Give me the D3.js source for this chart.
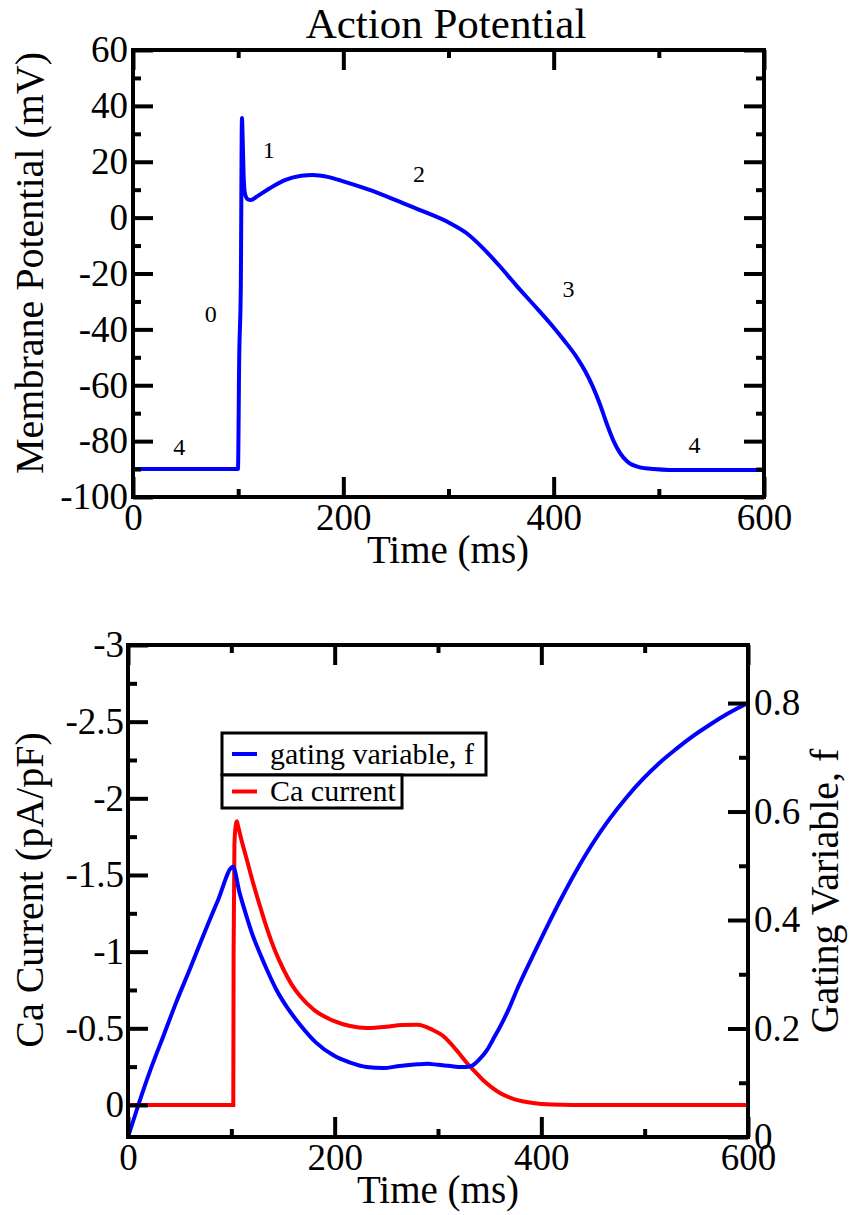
<!DOCTYPE html>
<html>
<head>
<meta charset="utf-8">
<script src="https://d3js.org/d3.v7.min.js"></script>
<style>
body { margin: 0; background: #fff; }
</style>
</head>
<body>
<svg width="852" height="1215" font-family="'Liberation Serif', 'DejaVu Serif', 'Times New Roman', Times, serif"></svg>
<script>
var SERIF = "'Liberation Serif', 'DejaVu Serif', 'Times New Roman', Times, serif";

// ---- action potential (top panel) ----
var apTime = [0, 99.8, 101, 102.5, 103.6, 104.3, 105.2, 106.5, 109, 112, 118, 130, 145, 160, 171, 185, 200, 225, 254, 273, 301, 317, 333, 349, 365, 381, 397, 410, 422, 430, 437, 444, 451, 457, 463, 470, 482, 495, 510, 600];
var apVoltage = [-90, -90, -50, -25, 35.7, 28, 15, 8.5, 6.6, 6.3, 7.6, 10.5, 13.5, 15, 15.3, 14.6, 13, 9.9, 5.6, 2.7, -1.9, -5.5, -11, -17.5, -24.5, -31.2, -38, -44, -50, -55, -60.3, -66.8, -74.3, -80, -84.2, -87.3, -89.4, -90, -90.3, -90.3];

var phaseText = ["0", "1", "2", "3", "4", "4"];
var phaseTime = [74, 129, 272, 414, 44, 534];
var phaseVoltage = [-37.4, 21.3, 12.8, -28.4, -85, -84.2];

var apXMajor = [0, 200, 400, 600];
var apXMinor = [100, 300, 500];
var apYMajor = [-100, -80, -60, -40, -20, 0, 20, 40, 60];
var apYMinor = [-90, -70, -50, -30, -10, 10, 30, 50];

// ---- Ca current and gating variable (bottom panel) ----
var gateTime = [0, 10, 21, 35, 47, 60, 73, 87, 101.6, 108, 115, 121, 128, 135, 144, 155, 166.5, 182, 198.4, 215, 231, 247, 263, 280, 290, 300, 312, 322, 331, 340, 347.4, 353, 360, 369, 376.5, 385, 395, 403.5, 418, 433.6, 450, 465.5, 482, 498.4, 514, 530.3, 546, 562.3, 581, 600];
var gateF = [0, 0.059, 0.12, 0.19, 0.25, 0.31, 0.372, 0.436, 0.498, 0.45, 0.405, 0.37, 0.337, 0.306, 0.27, 0.236, 0.207, 0.174, 0.151, 0.137, 0.129, 0.127, 0.131, 0.134, 0.135, 0.133, 0.131, 0.129, 0.13, 0.143, 0.16, 0.179, 0.203, 0.238, 0.272, 0.307, 0.347, 0.38, 0.435, 0.49, 0.542, 0.585, 0.625, 0.66, 0.689, 0.715, 0.738, 0.759, 0.781, 0.8];

var caTime = [0, 101.9, 102.2, 103, 104.2, 105.3, 106.5, 109, 115, 121, 128, 135, 142, 150, 158, 166.5, 180, 198.4, 215, 231, 250, 265, 280, 295, 305, 312, 320, 328, 336, 343.5, 352, 360, 375, 392, 410, 430, 600];
var caCurrent = [0, 0, -1.0, -1.7, -1.82, -1.85, -1.82, -1.75, -1.6, -1.45, -1.29, -1.14, -1.01, -0.89, -0.79, -0.71, -0.62, -0.55, -0.515, -0.502, -0.51, -0.522, -0.523, -0.489, -0.45, -0.404, -0.34, -0.274, -0.215, -0.163, -0.115, -0.078, -0.035, -0.013, -0.003, 0, 0];

var legendNames = ["gating variable, f", "Ca current"];
var legendColors = ["#0000ff", "#ff0000"];

var caXMajor = [0, 200, 400, 600];
var caXMinor = [100, 300, 500];
var caYMajor = [-3, -2.5, -2, -1.5, -1, -0.5, 0];
var caYMinor = [-2.75, -2.25, -1.75, -1.25, -0.75, -0.25];
var fMajor = [0, 0.2, 0.4, 0.6, 0.8];
var fMinor = [0.1, 0.3, 0.5, 0.7];

var svg = d3.select("svg");

function styleAxis(g) {
  g.attr("font-family", SERIF);
  g.select(".domain").remove();
  g.selectAll(".tick line").attr("stroke", "#000").attr("stroke-width", 4);
  g.selectAll(".tick text").attr("font-size", 37).attr("fill", "#000").attr("font-family", SERIF);
  return g;
}

function tickAxis(axisFn, scale, values, size, labels, pad) {
  return axisFn(scale).tickValues(values).tickSizeInner(-size).tickSizeOuter(0)
    .tickPadding(pad || 6)
    .tickFormat(labels ? function(d) { return String(d); } : "");
}

function label(x, y, size, txt, rot) {
  var t = svg.append("text").attr("text-anchor", "middle").attr("font-size", size)
    .attr("font-family", SERIF).attr("fill", "#000").text(txt);
  if (rot) t.attr("transform", "translate(" + x + "," + y + ") rotate(-90)");
  else t.attr("x", x).attr("y", y);
  return t;
}

// ================= top panel =================
var x1 = d3.scaleLinear().domain([0, 600]).range([133, 764]);
var y1 = d3.scaleLinear().domain([-100, 60]).range([497, 50]);

var line1 = d3.line().x(function(d) { return x1(d[0]); }).y(function(d) { return y1(d[1]); })
  .curve(d3.curveMonotoneX);

svg.append("path")
  .datum(apTime.map(function(t, i) { return [t, apVoltage[i]]; }))
  .attr("d", line1)
  .attr("fill", "none").attr("stroke", "#0000ff").attr("stroke-width", 4);

// axes drawn over the curve
var top1 = svg.append("g");
top1.append("g").attr("transform", "translate(0,497)").call(tickAxis(d3.axisBottom, x1, apXMajor, 20, true, 7)).call(styleAxis);
top1.append("g").attr("transform", "translate(0,497)").call(tickAxis(d3.axisBottom, x1, apXMinor, 8, false)).call(styleAxis);
top1.append("g").attr("transform", "translate(0,50)").call(tickAxis(d3.axisTop, x1, apXMajor, 20, false)).call(styleAxis);
top1.append("g").attr("transform", "translate(0,50)").call(tickAxis(d3.axisTop, x1, apXMinor, 8, false)).call(styleAxis);
top1.append("g").attr("transform", "translate(133,0)").call(tickAxis(d3.axisLeft, y1, apYMajor, 20, true, 5)).call(styleAxis);
top1.append("g").attr("transform", "translate(133,0)").call(tickAxis(d3.axisLeft, y1, apYMinor, 8, false)).call(styleAxis);
top1.append("g").attr("transform", "translate(764,0)").call(tickAxis(d3.axisRight, y1, apYMajor, 20, false)).call(styleAxis);
top1.append("g").attr("transform", "translate(764,0)").call(tickAxis(d3.axisRight, y1, apYMinor, 8, false)).call(styleAxis);

svg.append("rect").attr("x", 133).attr("y", 50).attr("width", 631).attr("height", 447)
  .attr("fill", "none").attr("stroke", "#000").attr("stroke-width", 4);

// phase numbers
svg.selectAll("text.phase").data(phaseText).enter().append("text")
  .attr("class", "phase")
  .attr("x", function(d, i) { return x1(phaseTime[i]); })
  .attr("y", function(d, i) { return y1(phaseVoltage[i]); })
  .attr("text-anchor", "middle").attr("font-size", 24).attr("font-family", SERIF)
  .text(function(d) { return d; });

label(446, 38, 43, "Action Potential");
label(448, 563, 39, "Time (ms)");
label(43, 263, 40, "Membrane Potential (mV)", true);

// ================= bottom panel =================
var x2 = d3.scaleLinear().domain([0, 600]).range([128, 748]);
var yL = d3.scaleLinear().domain([0.209, -3]).range([1137, 645]);
var yR = d3.scaleLinear().domain([0, 0.907]).range([1137, 645]);

var lineF = d3.line().x(function(d) { return x2(d[0]); }).y(function(d) { return yR(d[1]); })
  .curve(d3.curveMonotoneX);
var lineCa = d3.line().x(function(d) { return x2(d[0]); }).y(function(d) { return yL(d[1]); })
  .curve(d3.curveMonotoneX);

svg.append("path")
  .datum(caTime.map(function(t, i) { return [t, caCurrent[i]]; }))
  .attr("d", lineCa)
  .attr("fill", "none").attr("stroke", "#ff0000").attr("stroke-width", 4);

svg.append("path")
  .datum(gateTime.map(function(t, i) { return [t, gateF[i]]; }))
  .attr("d", lineF)
  .attr("fill", "none").attr("stroke", "#0000ff").attr("stroke-width", 4);

var bot = svg.append("g");
bot.append("g").attr("transform", "translate(0,1137)").call(tickAxis(d3.axisBottom, x2, caXMajor, 20, true, 7)).call(styleAxis);
bot.append("g").attr("transform", "translate(0,1137)").call(tickAxis(d3.axisBottom, x2, caXMinor, 8, false)).call(styleAxis);
bot.append("g").attr("transform", "translate(0,645)").call(tickAxis(d3.axisTop, x2, caXMajor, 20, false)).call(styleAxis);
bot.append("g").attr("transform", "translate(0,645)").call(tickAxis(d3.axisTop, x2, caXMinor, 8, false)).call(styleAxis);
bot.append("g").attr("transform", "translate(128,0)").call(tickAxis(d3.axisLeft, yL, caYMajor, 20, true, 4)).call(styleAxis);
bot.append("g").attr("transform", "translate(128,0)").call(tickAxis(d3.axisLeft, yL, caYMinor, 9, false)).call(styleAxis);
bot.append("g").attr("transform", "translate(748,0)").call(tickAxis(d3.axisRight, yR, fMajor, 20, true, 6)).call(styleAxis);
bot.append("g").attr("transform", "translate(748,0)").call(tickAxis(d3.axisRight, yR, fMinor, 9, false)).call(styleAxis);

svg.append("rect").attr("x", 128).attr("y", 645).attr("width", 620).attr("height", 492)
  .attr("fill", "none").attr("stroke", "#000").attr("stroke-width", 4);

// legend
var legendBoxes = [[222, 733, 264, 42], [222, 775, 180, 33]];
var leg = svg.append("g");
legendNames.forEach(function(name, i) {
  var b = legendBoxes[i];
  var cy = b[1] + b[3] / 2;
  leg.append("rect").attr("x", b[0]).attr("y", b[1]).attr("width", b[2]).attr("height", b[3])
    .attr("fill", "#fff").attr("stroke", "#000").attr("stroke-width", 3);
  leg.append("line").attr("x1", b[0] + 10).attr("x2", b[0] + 35).attr("y1", cy).attr("y2", cy)
    .attr("stroke", legendColors[i]).attr("stroke-width", 4);
  leg.append("text").attr("x", b[0] + 48).attr("y", cy).attr("dy", "0.32em")
    .attr("font-size", 30).attr("font-family", SERIF).text(name);
});

label(438, 1203, 39, "Time (ms)");
label(43, 890, 40, "Ca Current (pA/pF)", true);
label(838, 891, 40, "Gating Variable, f", true);
</script>
</body>
</html>
